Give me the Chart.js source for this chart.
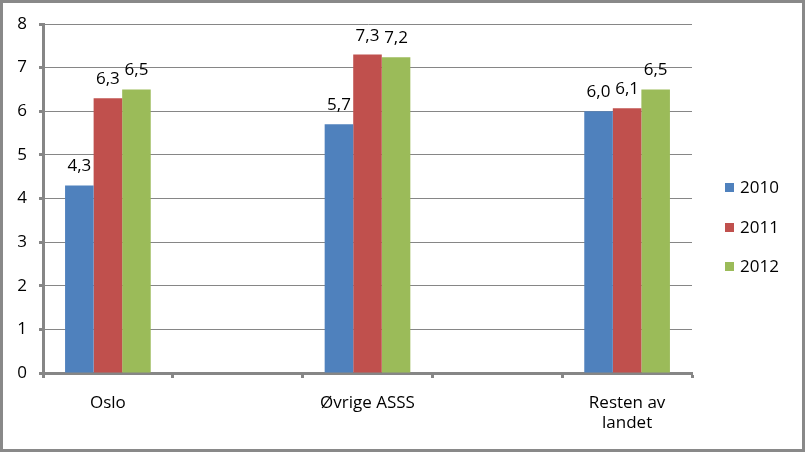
<!DOCTYPE html>
<html>
<head>
<meta charset="utf-8">
<script src="https://cdn.jsdelivr.net/npm/chart.js@4/dist/chart.umd.min.js"></script>
<style>
  html, body { margin: 0; padding: 0; background: #fff; }
  canvas { display: block; }
</style>
</head>
<body>
<canvas id="c" width="805" height="452"></canvas>
<script>
const categories = ['Oslo', '', 'Øvrige ASSS', '', ['Resten av', 'landet']];
const seriesNames = ['2010', '2011', '2012'];
const values2010 = [4.3, null, 5.7, null, 6.0];
const values2011 = [6.3, null, 7.3, null, 6.07];
const values2012 = [6.5, null, 7.24, null, 6.5];
const yTicks = [0, 1, 2, 3, 4, 5, 6, 7, 8];

const colors = ['#4F81BD', '#C0504D', '#9BBB59'];
const axisColor = '#868686';
const FONT = '"Open Sans", "Liberation Sans", sans-serif';

const bgBorder = {
  id: 'bgBorder',
  beforeDraw(chart) {
    const ctx = chart.ctx;
    ctx.save();
    ctx.fillStyle = '#fff';
    ctx.fillRect(0, 0, chart.width, chart.height);
    ctx.restore();
  },
  afterDraw(chart) {
    const ctx = chart.ctx;
    ctx.save();
    ctx.strokeStyle = '#898989';
    ctx.lineWidth = 3;
    ctx.strokeRect(1.5, 1.5, chart.width - 3, chart.height - 3);
    ctx.restore();
  }
};

const dataLabels = {
  id: 'dataLabels',
  afterDatasetsDraw(chart) {
    const ctx = chart.ctx;
    ctx.save();
    ctx.font = '17px ' + FONT;
    ctx.fillStyle = '#000';
    ctx.textAlign = 'center';
    ctx.textBaseline = 'alphabetic';
    chart.data.datasets.forEach((ds, di) => {
      const meta = chart.getDatasetMeta(di);
      meta.data.forEach((el, i) => {
        const v = ds.data[i];
        if (v === null || v === undefined) return;
        ctx.fillText(v.toFixed(1).replace('.', ','), el.x, el.y - 14);
      });
    });
    ctx.restore();
  }
};

const sideLegend = {
  id: 'sideLegend',
  afterDraw(chart) {
    const ctx = chart.ctx;
    const ys = [187, 227, 266];
    ctx.save();
    ctx.font = '17px ' + FONT;
    ctx.textAlign = 'left';
    ctx.textBaseline = 'middle';
    chart.data.datasets.forEach((ds, i) => {
      ctx.fillStyle = ds.backgroundColor;
      ctx.fillRect(725, ys[i] - 4, 9, 9);
      ctx.fillStyle = '#000';
      ctx.fillText(ds.label, 740, ys[i] + 1);
    });
    ctx.restore();
  }
};

new Chart(document.getElementById('c'), {
  type: 'bar',
  data: {
    labels: categories,
    datasets: [
      { label: seriesNames[0], data: values2010, backgroundColor: colors[0] },
      { label: seriesNames[1], data: values2011, backgroundColor: colors[1] },
      { label: seriesNames[2], data: values2012, backgroundColor: colors[2] }
    ]
  },
  options: {
    responsive: false,
    animation: false,
    devicePixelRatio: 1,
    datasets: { bar: { categoryPercentage: 0.66, barPercentage: 1.0, borderWidth: 0 } },
    layout: { padding: { left: 0, top: 24, right: 113, bottom: 0 } },
    plugins: { legend: { display: false }, tooltip: { enabled: false } },
    scales: {
      x: {
        offset: true,
        grid: {
          offset: true,
          drawOnChartArea: false,
          drawTicks: true,
          tickLength: 5,
          tickColor: axisColor,
          tickWidth: 3,
          color: axisColor
        },
        border: { display: true, color: axisColor, width: 3 },
        ticks: {
          font: { family: FONT, size: 17 },
          color: '#000',
          padding: 15,
          maxRotation: 0,
          autoSkip: false
        },
        afterFit(scale) { scale.height = 79; }
      },
      y: {
        min: 0,
        max: 8,
        afterBuildTicks(scale) { scale.ticks = yTicks.map(v => ({ value: v })); },
        grid: {
          color: axisColor,
          lineWidth: 1,
          drawTicks: true,
          tickLength: 4,
          tickColor: axisColor,
          tickWidth: 3
        },
        border: { display: true, color: axisColor, width: 3 },
        ticks: {
          font: { family: FONT, size: 17 },
          color: '#000',
          padding: 12
        },
        afterFit(scale) { scale.width = 43; }
      }
    }
  },
  plugins: [bgBorder, dataLabels, sideLegend]
});
</script>
</body>
</html>
